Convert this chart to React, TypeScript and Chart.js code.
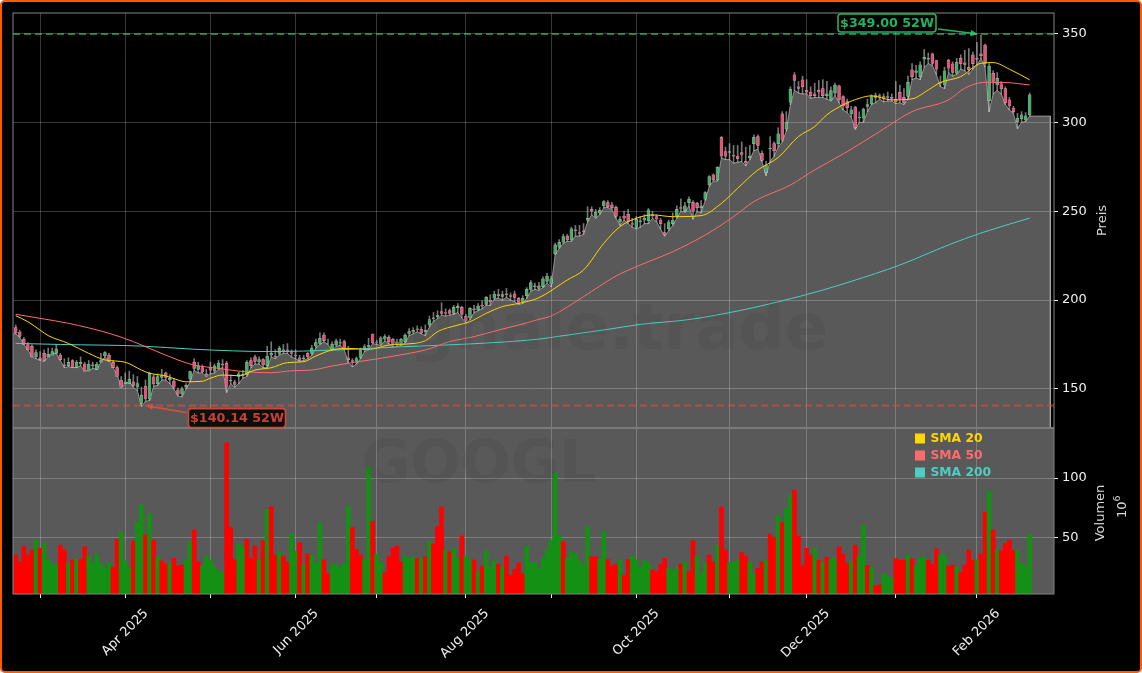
import { useEffect, useRef } from "react";
import { Chart, registerables } from "chart.js";

Chart.register(...registerables);

const opens = [
  184.5, 182, 178, 175, 174, 168, 167.5, 170, 168, 169,
  170, 169, 163.5, 163, 166, 162, 164, 164, 160, 163,
  161, 165, 168.5, 169, 165, 162, 155, 153, 153, 154,
  151, 141.8, 151.6, 144.3, 156.8, 153, 156.5, 159, 155, 154.4,
  149.5, 147, 151, 155.5, 165, 161, 162, 158.5, 162, 160,
  161.5, 164, 164.4, 154.5, 154, 157, 157.5, 158, 166, 168,
  165, 166.5, 163, 169, 168.5, 170, 171, 172, 170.5, 168.5,
  167.5, 167, 170, 170, 174, 175.6, 180.3, 176, 172.2, 174.7,
  176, 176.6, 167.5, 166, 165.5, 167.7, 171.9, 173.5, 180.9, 176,
  175.2, 178, 179, 177.9, 175.2, 175.2, 176.6, 181.2, 181.9, 183.5,
  183.5, 182, 186, 189.5, 190.5, 193.5, 193, 194, 192.5, 195.5,
  195.9, 191, 190, 195, 194.4, 197, 197.6, 200, 201.1, 203,
  202, 203.5, 202.5, 203.5, 200.9, 199, 202.5, 206, 208, 206.5,
  207.5, 210.5, 209, 226, 229.7, 232.5, 236, 233.8, 239, 238,
  239, 245, 251, 247, 249, 252.9, 254.8, 253.5, 252.2, 244,
  247.3, 248.2, 243, 240.9, 244, 245, 244.7, 248, 247, 245,
  238, 240, 243, 247.3, 252, 250.3, 254.8, 255, 254.4, 252,
  256.7, 264.7, 270.4, 267.6, 291.6, 283.5, 283, 281, 281, 283,
  278, 280, 288, 292, 282.5, 271.7, 285, 288, 288, 304.7,
  296.3, 311.3, 326.7, 320, 323.9, 318, 317, 316, 318, 319,
  315, 312.6, 316.4, 320.5, 314.5, 311.7, 304.7, 308.5, 302.5, 302.3,
  309, 310.4, 314, 315, 314.5, 314, 314, 313, 317, 314,
  314.5, 329.5, 328, 325.7, 335.5, 335.5, 338.5, 334.7, 322.5, 321,
  335, 332.9, 327.6, 336, 333.5, 331, 338, 336, 338.5, 343.5,
  312.2, 327.6, 321, 321.6, 319, 312.6, 308, 300.4, 301.9, 301.3, 304.2,
];

const closes = [
  181.5, 179.5, 175, 172, 168, 170.5, 166.5, 166, 169.5, 171,
  172.5, 166.5, 163, 165, 162, 165, 165, 160, 164, 163.5,
  164, 166, 170.4, 165.5, 162, 157, 151, 154, 155.5, 152,
  153, 146.5, 144.3, 158.8, 152.8, 157, 157.5, 156.5, 156, 151,
  147, 150, 152, 159.7, 161.5, 163, 159.5, 158, 160.5, 163,
  164.5, 163.5, 151, 155, 152.5, 158.5, 158, 165, 163, 165.5,
  166.5, 163.5, 168.5, 170, 168, 172.8, 172, 171, 170, 169,
  166, 167.5, 168, 173, 176, 178.4, 177.1, 176, 175.2, 177.1,
  175.7, 172.8, 166.5, 165.5, 167, 171.9, 173.8, 174.5, 176, 175.8,
  178.8, 179.4, 176.6, 174.7, 176.5, 177.9, 180.3, 182.2, 183, 183.8,
  181.5, 183, 189, 190, 191.5, 192.5, 192.5, 192.5, 195.9, 196.5,
  191.9, 188.5, 195.3, 194.5, 196.6, 196.5, 201.5, 199, 203.4, 202.5,
  203, 203, 202, 201.5, 198.1, 201, 206, 209.8, 207.5, 208,
  212, 213.5, 212, 231, 232.5, 235.7, 233.8, 240, 239.5, 237.5,
  238.5, 246, 250, 249.5, 250.5, 255.4, 252.6, 252, 247, 245.5,
  246, 244.1, 242.5, 245.4, 244.5, 246, 250.7, 247.5, 245.5, 243,
  237, 244, 245, 251, 251.5, 253, 256.7, 250, 252, 253,
  260.4, 269.4, 267.6, 274.7, 281, 281, 283.5, 281.5, 279.5, 282,
  277, 281, 291.5, 287, 278.5, 276, 285.5, 284, 293.5, 290,
  299.8, 318.6, 323.5, 319, 320, 317, 315, 315, 317, 315,
  316, 317.9, 321, 312.6, 309.2, 308.3, 307, 297, 303, 307.5,
  310, 314.5, 315, 314.5, 313.5, 314.5, 313.5, 311.5, 313, 311,
  322.5, 325.7, 329, 332.3, 336.5, 336, 333.2, 329.9, 322, 329,
  330.4, 328, 333.8, 333, 332.5, 329.5, 333, 335.5, 337.5, 333.2,
  331.7, 323, 324.8, 318.8, 311, 309.2, 306, 302.3, 304.2, 303.6, 315.4,
];

const highs = [
  186, 183, 179, 176, 175, 172, 171, 172, 173, 173,
  175, 170, 167, 167.5, 166.5, 166, 168, 165, 166, 165,
  165, 170, 171, 170, 166, 163, 157, 159, 160, 158,
  157, 151, 155, 159.5, 158, 158.5, 161, 159.5, 158, 156,
  150.5, 151, 153, 160, 167, 165, 163.5, 161, 165, 164,
  166, 166.5, 165.5, 158, 155, 159.5, 160.5, 166, 167.5, 169,
  168, 167, 174, 176.5, 172, 174, 175, 175.5, 172, 172,
  169, 169, 170.5, 174.5, 178, 181.5, 181.5, 178, 176.5, 178,
  178, 177.5, 174, 167, 168, 173, 175, 178.5, 181, 177.5,
  179.5, 180.5, 180, 178.5, 178, 178.5, 181, 184, 184.5, 185.5,
  185, 186, 191, 193, 194, 198.5, 195, 195, 197, 198,
  196.5, 192, 195.8, 197, 198, 199.5, 202, 203, 205, 206,
  205, 206.5, 204, 205, 201.5, 202.5, 207, 211, 209.5, 210,
  213, 215, 213.5, 232, 234, 237, 237, 241, 242, 242,
  243, 252.5, 252.5, 251, 252, 256, 256, 255, 253, 247,
  250, 251, 246, 247, 247, 248, 251.5, 250, 248, 246,
  243, 245, 249, 253, 257, 255, 258, 256, 255, 256,
  261, 270, 271, 275, 292, 286, 288, 287, 287, 289,
  286, 287, 293, 293, 284, 278, 292, 289, 297, 306,
  306, 320, 328, 323, 326, 324, 320, 322, 323.5, 324,
  323, 320, 322, 321, 315, 313, 309, 309, 306, 308,
  313, 315.5, 316.5, 316, 316, 317, 316, 323, 321, 319,
  326, 333, 332, 334, 341, 339, 339, 335, 326, 331,
  335.5, 334, 336, 338, 340.5, 341.5, 339.5, 345, 349, 344,
  333, 329, 328, 323, 320, 314, 309, 305, 306, 305.5, 316.5,
];

const lows = [
  181, 179, 175, 172, 168, 167, 166, 165.5, 168, 170,
  170, 166, 162, 162.5, 162, 162, 163, 160, 160.5, 161.5,
  161, 165, 168, 166, 162, 158, 151, 153, 154, 151,
  149, 140.14, 143, 143.5, 151.5, 152, 155, 155, 153, 150,
  146, 145.5, 150, 154, 160.5, 159, 159, 157, 158.5, 159,
  161, 162, 148, 153, 151, 153, 156, 157, 162, 164,
  164, 162, 162, 168, 167, 169, 170, 170, 168, 167,
  165.5, 166, 167, 169, 173, 175, 176.5, 175, 171.5, 174,
  174.5, 172, 165, 162.5, 164, 167, 171, 172, 175.5, 175,
  174.5, 177, 175.5, 173.5, 174, 174.5, 176, 180, 181, 182,
  181, 180, 185, 188, 189.5, 191.5, 191, 191.5, 192, 193,
  190, 187, 189, 193, 194, 195, 197, 197, 200.5, 201,
  200, 201.5, 200, 199, 197.5, 198, 201, 205, 206, 205.5,
  207, 209.5, 207.5, 225.5, 229, 232, 233, 233, 236, 236,
  237, 244, 248, 246, 248, 252, 252, 251, 246, 242,
  245, 243, 241, 240, 241, 243, 243, 246, 244, 240,
  236, 239, 242, 246, 250, 249.5, 253, 245.5, 250, 249,
  256, 264, 267, 267, 280, 279, 279, 277, 277.5, 278,
  275.5, 279, 284, 285, 278, 270, 278, 281, 286, 289,
  295, 310, 318, 316.5, 316, 316, 313.5, 314, 314, 314,
  313, 312, 315, 311, 307, 305.5, 303, 296, 300, 300,
  306, 310, 311, 313, 311.5, 312, 312, 310.5, 311, 310,
  313, 324, 325, 324, 331, 333, 332, 327, 320, 319,
  328, 326, 327, 330, 329, 327, 330, 332, 336, 331,
  306, 316, 318, 316, 310, 307, 305, 296.5, 300, 300.5, 303.5,
];

const volumes = [
  35.8, 30, 42.8, 35.8, 40, 48.3, 41.4, 45.6, 31.7, 29,
  27.5, 44, 40, 29, 31.7, 32.2, 32, 42.8, 35, 29,
  36.7, 29, 24.7, 29.4, 25.6, 49, 55.3, 31, 25.6, 47.5,
  63.3, 77.5, 52.5, 70.5, 48.3, 34.4, 31, 28.3, 28.3, 33,
  26.7, 27.5, 31.7, 47, 56.7, 30, 26.7, 35, 31.7, 26,
  22, 22, 129.4, 58.6, 32, 44.7, 42.8, 49, 33, 43.3,
  31.7, 47.8, 74, 76, 35.8, 38.6, 35, 30, 53.3, 39,
  46, 27.5, 36.7, 35.8, 29, 62.8, 31.7, 20.5, 28.3, 27.5,
  25.6, 29, 76.7, 58.6, 40.5, 35.8, 32, 109.4, 64, 36.7,
  29.4, 21, 34.4, 41.4, 43.3, 30, 35, 33, 34.4, 33,
  33, 34.4, 47, 45, 59.4, 76, 40, 38.6, 41.4, 33,
  51.7, 35, 32, 31.7, 22, 26.7, 39.4, 26, 31, 28.3,
  26, 35, 18.6, 24, 29.4, 20, 43.3, 29.4, 29.4, 24,
  33, 40, 48.3, 104.4, 52, 47, 33, 38.6, 36.7, 31,
  27.5, 59.4, 34.4, 34.4, 32, 55.8, 32, 26.7, 28.3, 31.7,
  18.6, 32, 35, 32, 25.6, 31, 29, 23.3, 22, 28.3,
  33, 24.7, 22.8, 26, 28.3, 30, 22, 47.8, 35, 20,
  29, 35.8, 30, 44, 76, 40, 29.7, 30, 31.7, 37.8,
  35, 30, 20, 24.7, 30, 31.7, 53.3, 50.5, 69, 62.8,
  74.7, 85.8, 90, 51.7, 26.9, 41.4, 35.8, 42, 31.6, 30,
  33.8, 32, 33.8, 42.7, 36.6, 28.8, 30.5, 44, 35, 60.5,
  26.9, 25.2, 10.2, 10.8, 20, 17.7, 16.9, 32.7, 31.3, 31.6,
  35.8, 32.7, 26.9, 34, 34, 31.3, 28.3, 41, 35.8, 35.8,
  26.6, 27.5, 26, 21.6, 27.5, 40, 31.6, 32, 36.6, 71.6,
  89, 56.6, 40, 39.4, 45.5, 48.3, 39.4, 40, 28.8, 26, 53,
];

// g = green volume bar, r = red, same order as volumes
const volumeSides =
  "rrrrrgrggg" + "grrgrgrrgg" + "ggggrrgggr" + "ggrgrgrrgr" + "rrggrrgggg" +
  "ggrrrggrrr" + "grgrrgrrgg" + "rgrgggrrgg" + "gggrrrggrg" + "grrrrrgggr" +
  "grgrrrgrgg" + "rggrgrgggr" + "grrrrrgggg" + "gggggrgggg" + "ggrrggrrrg" +
  "rrgggggrrr" + "rgggrgrrgg" + "grrgrrgggr" + "rggrrgrrgr" + "ggrrrrrgrg" +
  "rggrrrgrgg" + "rgrrgggrrr" + "grgggrrrgg" + "rrgrrrrgrr" + "grgrrrrgggg";

const sma20Days = [0, 3, 6, 8, 13, 18, 22, 27, 31, 33, 37, 40, 42, 46, 48, 51, 55, 57, 59, 63, 67, 71, 74, 78, 82, 87, 92, 96, 101, 104, 109, 112, 116, 120, 124, 129, 136, 140, 145, 149, 153, 157, 162, 169, 174, 178, 183, 188, 193, 197, 200, 204, 208, 211, 216, 221, 225, 228, 233, 238, 241, 245, 250];
const sma20Values = [191.2, 187.8, 183.1, 180, 175.6, 170, 166.3, 165, 160.6, 158.8, 157.3, 155, 154, 154.3, 156, 157.8, 157.4, 158.8, 160.6, 161.9, 164.8, 165.3, 168.5, 171.9, 172.8, 172.2, 174.7, 175.2, 177.1, 182.2, 185.9, 187.8, 192.5, 196.3, 198.1, 201.3, 211.3, 216.9, 231.9, 241.3, 246, 247.9, 246.9, 247.5, 254.4, 262.9, 273.2, 280.2, 292, 297.6, 304.2, 309.8, 313.5, 314.9, 312.6, 313.2, 318.2, 322.4, 325.7, 333.2, 333.6, 329.9, 323.9];

const sma50Days = [0, 6, 13, 23, 29, 33, 40, 44, 50, 55, 63, 68, 73, 78, 83, 90, 96, 101, 107, 113, 119, 124, 129, 132, 140, 148, 154, 162, 170, 177, 182, 191, 197, 205, 213, 221, 230, 234, 239, 244, 250];
const sma50Values = [192, 189.7, 186.9, 181.3, 176.6, 172.8, 166.3, 163.4, 161.6, 160, 159.1, 160.2, 160.6, 162.9, 164.8, 167.2, 169.6, 171.9, 176.6, 179.4, 183.1, 185.9, 189.1, 191, 201.9, 213.5, 219.7, 227.2, 236.6, 246.9, 255.4, 264.7, 273.2, 283.5, 294.8, 306, 312.6, 319.2, 322.5, 322.4, 321];

const sma200Days = [0, 11, 31, 44, 63, 79, 96, 112, 129, 133, 146, 154, 166, 179, 188, 199, 206, 218, 230, 238, 250];
const sma200Values = [175.6, 175, 174.1, 172.3, 171, 171.9, 173.8, 175.3, 178, 179.3, 183.5, 186.3, 189, 194.3, 199, 205.6, 210.5, 219.7, 231, 237.7, 246.1];

const yearHighLine = 349.7;
const yearLowLine = 140.6;
const highLabel = "$349.00 52W";
const lowLabel = "$140.14 52W";

const monthDays = [6, 27, 48, 69, 89, 111, 132, 153, 176, 195, 217, 237];
const monthLabels = ["", "Apr 2025", "", "Jun 2025", "", "Aug 2025", "", "Oct 2025", "", "Dec 2025", "", "Feb 2026"];
const priceTicks = [150, 200, 250, 300, 350];
const volumeTicks = [50, 100];

const legendItems = [
  { label: "SMA 20", color: "#FFD700" },
  { label: "SMA 50", color: "#FF6B6B" },
  { label: "SMA 200", color: "#4ECDC4" },
];

const FONT = "'DejaVu Sans', sans-serif";
const X_MIN = -0.67;
const X_MAX = 256;
const PRICE_MIN = 128;
const PRICE_MAX = 361.5;
const TAIL_X = 255.1;
const GREEN = "rgba(46,204,113,0.85)";
const RED = "rgba(231,76,60,0.85)";

const points = (days: number[], values: number[]) => days.map((x, i) => ({ x, y: values[i] }));

function labelBox(ctx: any, text: string, left: number, top: number, w: number, h: number, color: string) {
  ctx.beginPath();
  ctx.roundRect(left, top, w, h, 3);
  ctx.fillStyle = "rgba(0,0,0,0.85)";
  ctx.fill();
  ctx.lineWidth = 1.6;
  ctx.strokeStyle = color;
  ctx.stroke();
  ctx.fillStyle = color;
  ctx.font = `bold 12.7px ${FONT}`;
  ctx.textAlign = "center";
  ctx.textBaseline = "middle";
  ctx.fillText(text, left + w / 2, top + h / 2 + 0.5);
}

function arrow(ctx: any, x1: number, y1: number, x2: number, y2: number, color: string) {
  const a = Math.atan2(y2 - y1, x2 - x1);
  ctx.strokeStyle = color;
  ctx.lineWidth = 1.6;
  ctx.beginPath();
  ctx.moveTo(x1, y1);
  ctx.lineTo(x2 - 6 * Math.cos(a), y2 - 6 * Math.sin(a));
  ctx.stroke();
  ctx.fillStyle = color;
  ctx.beginPath();
  ctx.moveTo(x2, y2);
  ctx.lineTo(x2 - 8 * Math.cos(a - 0.4), y2 - 8 * Math.sin(a - 0.4));
  ctx.lineTo(x2 - 8 * Math.cos(a + 0.4), y2 - 8 * Math.sin(a + 0.4));
  ctx.closePath();
  ctx.fill();
}

// volume panel background goes under the bars, same tone as the price area
const panelPlugin = {
  id: "panel",
  beforeDatasetsDraw(chart: any) {
    const { ctx, chartArea, scales } = chart;
    ctx.save();
    ctx.fillStyle = "rgba(255,255,255,0.35)";
    ctx.fillRect(chartArea.left, scales.yVol.top, chartArea.right - chartArea.left, scales.yVol.bottom - scales.yVol.top);
    ctx.restore();
  },
};

const overlayPlugin = {
  id: "overlay",
  afterDraw(chart: any) {
    const { ctx, chartArea, scales } = chart;
    const { x, yPrice, yVol } = scales;
    ctx.save();

    // watermarks
    ctx.fillStyle = "rgba(0,0,0,0.055)";
    ctx.textAlign = "left";
    ctx.textBaseline = "alphabetic";
    ctx.font = `bold 64px ${FONT}`;
    ctx.fillText("signale.trade", 349, 349);
    ctx.font = `bold 59px ${FONT}`;
    ctx.fillText("GOOGL", 362, 482);

    // panel frames
    ctx.strokeStyle = "#858585";
    ctx.lineWidth = 1;
    ctx.strokeRect(chartArea.left, chartArea.top, chartArea.right - chartArea.left, chartArea.bottom - chartArea.top);
    ctx.lineWidth = 2;
    ctx.strokeStyle = "#7a7a7a";
    ctx.beginPath();
    ctx.moveTo(chartArea.left, yVol.top);
    ctx.lineTo(chartArea.right, yVol.top);
    ctx.stroke();

    // 52 week labels
    const hx = x.getPixelForValue(closes.length - 13);
    const hy = yPrice.getPixelForValue(yearHighLine);
    arrow(ctx, hx - 43, hy - 5, hx - 3, hy, GREEN);
    labelBox(ctx, highLabel, hx - 143, hy - 20, 98, 18, GREEN);
    const lx = x.getPixelForValue(31);
    const ly = yPrice.getPixelForValue(yearLowLine);
    arrow(ctx, lx + 45, ly + 7, lx + 4, ly, RED);
    labelBox(ctx, lowLabel, lx + 47, ly + 3, 97, 19, RED);

    // legend
    legendItems.forEach((item, i) => {
      const y = yVol.top + 10.5 + i * 17;
      ctx.fillStyle = item.color;
      ctx.fillRect(915, y - 5, 10, 10);
      ctx.font = `bold 12.3px ${FONT}`;
      ctx.textAlign = "left";
      ctx.textBaseline = "middle";
      ctx.fillText(item.label, 930.5, y);
    });

    // axis titles read bottom to top
    const vertical = (text: string, px: number, py: number) => {
      ctx.save();
      ctx.translate(px, py);
      ctx.rotate(-Math.PI / 2);
      ctx.fillStyle = "#d8d8d8";
      ctx.font = `13px ${FONT}`;
      ctx.textAlign = "center";
      ctx.textBaseline = "middle";
      ctx.fillText(text, 0, 0);
      ctx.restore();
    };
    vertical("Preis", 1103, (yPrice.top + yPrice.bottom) / 2);
    vertical("Volumen", 1101, 513);

    // scale factor, 10 with a raised 6
    ctx.save();
    ctx.translate(1122, 518);
    ctx.rotate(-Math.PI / 2);
    ctx.fillStyle = "#d8d8d8";
    ctx.textAlign = "left";
    ctx.textBaseline = "middle";
    ctx.font = `13px ${FONT}`;
    ctx.fillText("10", 0, 1);
    ctx.font = `9.5px ${FONT}`;
    ctx.fillText("6", 16.5, -4);
    ctx.restore();

    ctx.restore();
  },
};

const tickOpts = { color: "#f0f0f0", font: { family: FONT, size: 13 } };

export default function App() {
  const canvasRef = useRef<HTMLCanvasElement>(null);

  useEffect(() => {
    document.body.style.margin = "0";
    const canvas = canvasRef.current;
    if (!canvas) return;
    const chart = new Chart(canvas, {
      type: "bar",
      data: {
        datasets: [
          {
            type: "line",
            label: "area",
            yAxisID: "yPrice",
            data: [
              { x: X_MIN, y: lows[0] },
              ...lows.map((y, x) => ({ x, y })),
              { x: TAIL_X, y: lows[lows.length - 1] },
              { x: TAIL_X, y: PRICE_MIN },
            ],
            borderColor: "rgba(170,170,170,0.8)",
            borderWidth: 1,
            backgroundColor: "rgba(255,255,255,0.35)",
            fill: "start",
            pointRadius: 0,
            tension: 0,
            order: 10,
          },
          {
            type: "bar",
            label: "volume",
            yAxisID: "yVol",
            data: volumes.map((y, x) => ({ x, y })),
            backgroundColor: volumes.map((_, i) => (volumeSides[i] === "g" ? "#149014" : "#ff0000")),
            barThickness: 4,
            grouped: false,
            order: 9,
          },
          {
            type: "bar",
            label: "wick",
            yAxisID: "yPrice",
            data: highs.map((h, x) => ({ x, y: [lows[x], h] })),
            backgroundColor: "rgba(215,215,215,0.55)",
            barThickness: 1,
            grouped: false,
            order: 6,
          },
          {
            type: "bar",
            label: "body",
            yAxisID: "yPrice",
            data: opens.map((o, x) => ({ x, y: [o, closes[x]] })),
            backgroundColor: opens.map((o, i) => (closes[i] >= o ? "#48ad66" : "#e8507a")),
            borderColor: "rgba(235,235,235,0.65)",
            borderWidth: 0.5,
            borderSkipped: false,
            barThickness: 3,
            grouped: false,
            order: 5,
          },
          {
            type: "line",
            label: "SMA 200",
            yAxisID: "yPrice",
            data: points(sma200Days, sma200Values),
            borderColor: "#4ECDC4",
            borderWidth: 1,
            pointRadius: 0,
            cubicInterpolationMode: "monotone",
            order: 3,
          },
          {
            type: "line",
            label: "SMA 50",
            yAxisID: "yPrice",
            data: points(sma50Days, sma50Values),
            borderColor: "#FF6B6B",
            borderWidth: 1,
            pointRadius: 0,
            cubicInterpolationMode: "monotone",
            order: 2,
          },
          {
            type: "line",
            label: "SMA 20",
            yAxisID: "yPrice",
            data: points(sma20Days, sma20Values),
            borderColor: "#FFD700",
            borderWidth: 1,
            pointRadius: 0,
            cubicInterpolationMode: "monotone",
            order: 1,
          },
          {
            type: "line",
            label: "52W high",
            yAxisID: "yPrice",
            data: [{ x: X_MIN, y: yearHighLine }, { x: X_MAX, y: yearHighLine }],
            borderColor: "rgba(46,204,113,0.6)",
            borderWidth: 2,
            borderDash: [7, 4],
            pointRadius: 0,
            order: 0,
          },
          {
            type: "line",
            label: "52W low",
            yAxisID: "yPrice",
            data: [{ x: X_MIN, y: yearLowLine }, { x: X_MAX, y: yearLowLine }],
            borderColor: "rgba(231,76,60,0.6)",
            borderWidth: 2,
            borderDash: [7, 4],
            pointRadius: 0,
            order: 0,
          },
        ] as any,
      },
      options: {
        responsive: false,
        animation: false,
        devicePixelRatio: 1,
        layout: { padding: { left: 13, top: 13, right: 0, bottom: 0 } },
        plugins: { legend: { display: false }, tooltip: { enabled: false } },
        scales: {
          x: {
            type: "linear",
            min: X_MIN,
            max: X_MAX,
            offset: false,
            grid: { color: "rgba(255,255,255,0.22)", lineWidth: 1, tickColor: "#f0f0f0", tickLength: 4, offset: false },
            border: { display: false },
            afterBuildTicks: (scale: any) => {
              scale.ticks = monthDays.map((value) => ({ value }));
            },
            afterFit: (scale: any) => {
              scale.height = 79;
            },
            ticks: {
              ...tickOpts,
              autoSkip: false,
              minRotation: 45,
              maxRotation: 45,
              labelOffset: 21,
              padding: 8,
              callback: (_v: any, i: number) => monthLabels[i],
            },
          },
          yPrice: {
            type: "linear",
            position: "right",
            stack: "panels",
            stackWeight: 2.5,
            weight: 1,
            min: PRICE_MIN,
            max: PRICE_MAX,
            grid: { color: "rgba(255,255,255,0.22)", tickColor: "#f0f0f0", tickLength: 4 },
            border: { display: false },
            afterBuildTicks: (scale: any) => {
              scale.ticks = priceTicks.map((value) => ({ value }));
            },
            afterFit: (scale: any) => {
              scale.width = 88;
            },
            ticks: { ...tickOpts, padding: 4, callback: (v: any) => String(v) },
          },
          yVol: {
            type: "linear",
            position: "right",
            stack: "panels",
            stackWeight: 1,
            weight: 2,
            min: 3.3,
            max: 141.7,
            grid: { color: "rgba(255,255,255,0.22)", tickColor: "#f0f0f0", tickLength: 4 },
            border: { display: false },
            afterBuildTicks: (scale: any) => {
              scale.ticks = volumeTicks.map((value) => ({ value }));
            },
            afterFit: (scale: any) => {
              scale.width = 88;
            },
            ticks: { ...tickOpts, padding: 4, callback: (v: any) => String(v) },
          },
        },
      } as any,
      plugins: [panelPlugin, overlayPlugin],
    });
    return () => chart.destroy();
  }, []);

  return (
    <div
      style={{
        position: "relative",
        width: 1142,
        height: 673,
        boxSizing: "border-box",
        border: "2px solid #ff5a00",
        borderRadius: 5,
        background: "#000",
        overflow: "hidden",
      }}
    >
      <canvas
        ref={canvasRef}
        width={1142}
        height={673}
        style={{ position: "absolute", left: -2, top: -2, width: 1142, height: 673 }}
      />
    </div>
  );
}
